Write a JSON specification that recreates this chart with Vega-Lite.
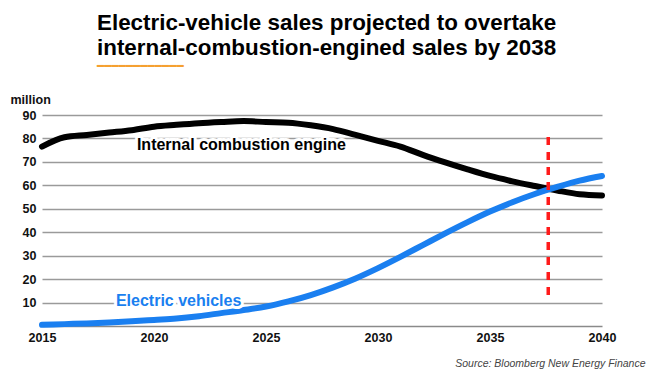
{
  "$schema": "https://vega.github.io/schema/vega-lite/v6.json",
  "width": 560,
  "height": 211,
  "autosize": {"type": "none"},
  "padding": {"left": 42, "top": 115, "right": 48, "bottom": 44},
  "background": "white",
  "config": {"view": {"stroke": null}, "font": "Liberation Sans"},
  "title": {
    "text": ["Electric-vehicle sales projected to overtake", "internal-combustion-engined sales by 2038"],
    "subtitle": "━━━━━━━━━━━━",
    "anchor": "start",
    "frame": "group",
    "dx": 55,
    "offset": 21,
    "font": "Liberation Sans",
    "fontSize": 22.4,
    "fontWeight": "bold",
    "lineHeight": 25,
    "color": "#000",
    "subtitleColor": "#F5A030",
    "subtitleFontSize": 12,
    "subtitleFont": "DejaVu Sans",
    "subtitlePadding": 2
  },
  "datasets": {
    "sales": [
      {"year": 2015, "series": "ICE", "value": 76.5},
      {"year": 2016, "series": "ICE", "value": 80.5},
      {"year": 2017, "series": "ICE", "value": 81.5},
      {"year": 2018, "series": "ICE", "value": 82.5},
      {"year": 2019, "series": "ICE", "value": 83.5},
      {"year": 2020, "series": "ICE", "value": 85},
      {"year": 2021, "series": "ICE", "value": 85.8},
      {"year": 2022, "series": "ICE", "value": 86.5},
      {"year": 2023, "series": "ICE", "value": 87},
      {"year": 2024, "series": "ICE", "value": 87.4},
      {"year": 2025, "series": "ICE", "value": 87},
      {"year": 2026, "series": "ICE", "value": 86.7},
      {"year": 2027, "series": "ICE", "value": 85.6},
      {"year": 2028, "series": "ICE", "value": 84},
      {"year": 2029, "series": "ICE", "value": 81.5},
      {"year": 2030, "series": "ICE", "value": 79},
      {"year": 2031, "series": "ICE", "value": 76.5},
      {"year": 2032, "series": "ICE", "value": 73},
      {"year": 2033, "series": "ICE", "value": 69.8},
      {"year": 2034, "series": "ICE", "value": 66.8},
      {"year": 2035, "series": "ICE", "value": 64},
      {"year": 2036, "series": "ICE", "value": 61.7},
      {"year": 2037, "series": "ICE", "value": 59.7},
      {"year": 2038, "series": "ICE", "value": 57.8},
      {"year": 2039, "series": "ICE", "value": 56.2},
      {"year": 2040, "series": "ICE", "value": 55.7},
      {"year": 2015, "series": "EV", "value": 0.5},
      {"year": 2016, "series": "EV", "value": 0.8},
      {"year": 2017, "series": "EV", "value": 1.1},
      {"year": 2018, "series": "EV", "value": 1.5},
      {"year": 2019, "series": "EV", "value": 2},
      {"year": 2020, "series": "EV", "value": 2.6},
      {"year": 2021, "series": "EV", "value": 3.2},
      {"year": 2022, "series": "EV", "value": 4.2},
      {"year": 2023, "series": "EV", "value": 5.5},
      {"year": 2024, "series": "EV", "value": 6.8},
      {"year": 2025, "series": "EV", "value": 8.3},
      {"year": 2026, "series": "EV", "value": 10.5},
      {"year": 2027, "series": "EV", "value": 13.2},
      {"year": 2028, "series": "EV", "value": 16.5},
      {"year": 2029, "series": "EV", "value": 20.3},
      {"year": 2030, "series": "EV", "value": 24.7},
      {"year": 2031, "series": "EV", "value": 29.5},
      {"year": 2032, "series": "EV", "value": 34.5},
      {"year": 2033, "series": "EV", "value": 39.5},
      {"year": 2034, "series": "EV", "value": 44.3},
      {"year": 2035, "series": "EV", "value": 48.8},
      {"year": 2036, "series": "EV", "value": 52.8},
      {"year": 2037, "series": "EV", "value": 56.3},
      {"year": 2038, "series": "EV", "value": 59.3},
      {"year": 2039, "series": "EV", "value": 62},
      {"year": 2040, "series": "EV", "value": 64}
    ],
    "crossover": [{"year": 2037.6, "top": 80.6, "bottom": 12.9}],
    "labels": [
      {"series": "ICE", "label": "Internal combustion engine", "year": 2023.9, "value": 77.4},
      {"series": "EV", "label": "Electric vehicles", "year": 2021.1, "value": 10.5}
    ]
  },
  "layer": [
    {
      "data": {"name": "sales"},
      "mark": {"type": "line", "strokeWidth": 6, "interpolate": "monotone", "strokeCap": "round"},
      "encoding": {
        "x": {
          "field": "year", "type": "quantitative",
          "scale": {"domain": [2015, 2040], "nice": false, "zero": false},
          "axis": {
            "values": [2015, 2020, 2025, 2030, 2035, 2040],
            "tickCount": 30,
            "format": "d",
            "grid": false,
            "ticks": false,
            "domainColor": "#8a8a8a",
            "domainWidth": 1.5,
            "labelFont": "Liberation Sans",
            "labelFontSize": 12.5,
            "labelFontWeight": "bold",
            "labelColor": "#111",
            "labelPadding": 5,
            "labelFlush": false,
            "labelOverlap": false,
            "title": "Source: Bloomberg New Energy Finance",
            "titleFont": "Liberation Sans",
            "titleFontStyle": "italic",
            "titleFontWeight": "normal",
            "titleFontSize": 10.5,
            "titleColor": "#444",
            "titleAlign": "right",
            "titleAnchor": null,
            "titleX": 603,
            "titleY": 40,
            "titleBaseline": "alphabetic"
          }
        },
        "y": {
          "field": "value", "type": "quantitative",
          "scale": {"domain": [0, 90], "nice": false},
          "axis": {
            "values": [10, 20, 30, 40, 50, 60, 70, 80, 90],
            "tickCount": 30,
            "domain": false,
            "ticks": false,
            "gridColor": "#9a9a9a",
            "gridWidth": 1.3,
            "labelFont": "Liberation Sans",
            "labelFontSize": 12.5,
            "labelFontWeight": "bold",
            "labelColor": "#111",
            "labelPadding": 6,
            "labelOverlap": false,
            "title": "million",
            "titleAngle": 0,
            "titleFont": "Liberation Sans",
            "titleFontSize": 12.5,
            "titleFontWeight": "bold",
            "titleColor": "#111",
            "titleAlign": "left",
            "titleAnchor": null,
            "titleX": -32,
            "titleY": -16,
            "titleBaseline": "middle"
          }
        },
        "color": {
          "field": "series", "type": "nominal",
          "scale": {"domain": ["ICE", "EV"], "range": ["#000000", "#1a7ff0"]},
          "legend": null
        }
      }
    },
    {
      "data": {"name": "crossover"},
      "mark": {"type": "rule", "color": "#ff1a1a", "strokeWidth": 3.5, "strokeDash": [8, 7]},
      "encoding": {
        "x": {"field": "year", "type": "quantitative"},
        "y": {"field": "top", "type": "quantitative"},
        "y2": {"field": "bottom"}
      }
    },
    {
      "data": {"name": "labels"},
      "mark": {"type": "text", "fontSize": 16, "fontWeight": "bold", "font": "Liberation Sans", "stroke": "white", "strokeWidth": 6, "strokeJoin": "round"},
      "encoding": {
        "x": {"field": "year", "type": "quantitative"},
        "y": {"field": "value", "type": "quantitative"},
        "text": {"field": "label"}
      }
    },
    {
      "data": {"name": "labels"},
      "mark": {"type": "text", "fontSize": 16, "fontWeight": "bold", "font": "Liberation Sans"},
      "encoding": {
        "x": {"field": "year", "type": "quantitative"},
        "y": {"field": "value", "type": "quantitative"},
        "text": {"field": "label"},
        "color": {"field": "series", "type": "nominal", "legend": null}
      }
    }
  ]
}
